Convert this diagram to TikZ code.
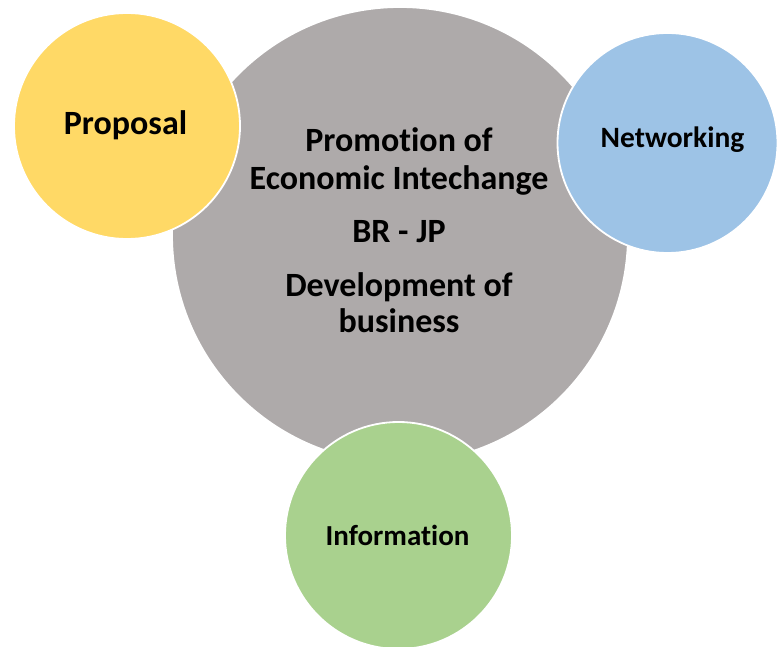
\documentclass[tikz,border=0pt]{standalone}
\usepackage{fontspec}
\setmainfont[Ligatures={NoCommon,NoRare,NoContextual}]{Carlito}
\definecolor{cgray}{HTML}{AEAAAA}
\definecolor{cyellow}{HTML}{FFD966}
\definecolor{cblue}{HTML}{9DC3E6}
\definecolor{cgreen}{HTML}{A9D18E}
\newcommand{\nolig}{\kern0pt}
\tikzset{
  bubble/.style={circle, inner sep=0pt, draw=white, line width=1.8pt},
  lbl/.style={anchor=base, inner sep=0pt, text=black},
}
\begin{document}
\begin{tikzpicture}[x=1pt, y=-1pt]
\useasboundingbox (0,0) rectangle (777,647);
\node[bubble, fill=cgray, minimum size=456pt] (main) at (400,235) {};
\node[bubble, fill=cyellow, minimum size=226pt] (prop) at (127,126) {};
\node[bubble, fill=cblue, minimum size=220pt] (net) at (667.5,143) {};
\node[bubble, fill=cgreen, minimum size=227pt] (info) at (398.5,535.5) {};
\node[lbl, font=\fontsize{34}{38}\selectfont\bfseries] (t1) at (399,152) {Promot\nolig ion of};
\node[lbl, font=\fontsize{34}{38}\selectfont\bfseries] (t2) at (399,190) {Economic Intechange};
\node[lbl, font=\fontsize{34}{38}\selectfont\bfseries] (t3) at (399,243) {BR - JP};
\node[lbl, font=\fontsize{34}{38}\selectfont\bfseries] (t4) at (399,297) {Development of};
\node[lbl, font=\fontsize{34}{38}\selectfont\bfseries] (t5) at (399,333) {business};
\node[lbl, font=\fontsize{34}{38}\selectfont\bfseries] (tp) at (125.5,135) {Proposal};
\node[lbl, font=\fontsize{29.5}{33}\selectfont\bfseries] (tn) at (672.5,148) {Networking};
\node[lbl, font=\fontsize{29}{33}\selectfont\bfseries] (ti) at (397.5,545) {Informat\nolig ion};
\end{tikzpicture}
\end{document}
